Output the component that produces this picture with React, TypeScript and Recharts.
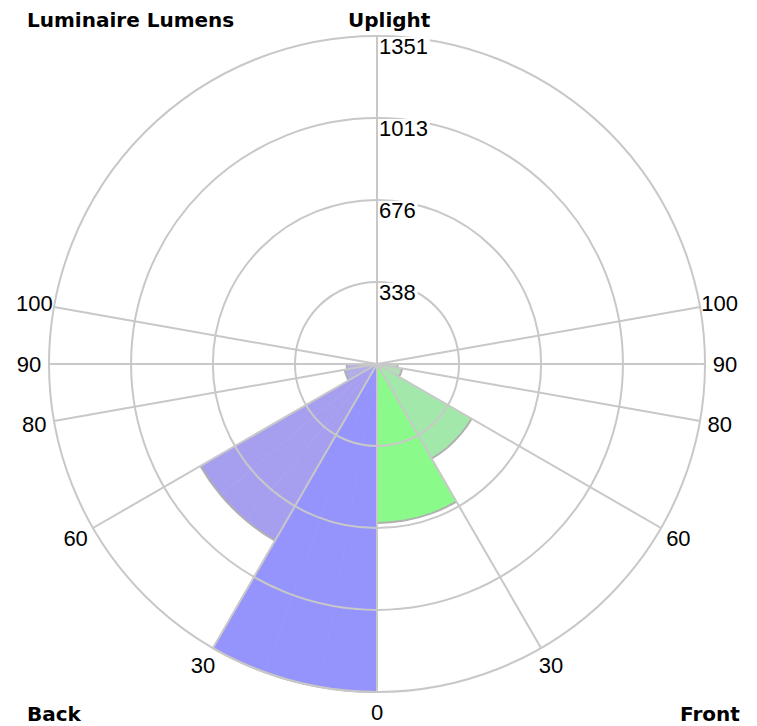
import {
  RadialBarChart,
  RadialBar,
  PolarAngleAxis,
  PolarRadiusAxis,
  PolarGrid,
  Sector,
} from "recharts"

// zonal lumens, zones measured from nadir (0) up to zenith (180)
const zoneStart = [0, 30, 60, 80, 90, 100]
const zoneEnd = [30, 60, 80, 90, 100, 180]
const backLumens = [1351, 840, 135, 125, 0, 0]
const frontLumens = [655, 450, 105, 85, 0, 0]
const backColors = ["#9494fc", "#a69ff0", "#b1ade6", "#b8b5de", "#c0c0d8", "#c0c0d8"]
const frontColors = ["#8afa8a", "#a2e8aa", "#b2deb6", "#bad8bd", "#c0d8c0", "#c0d8c0"]

const maxLumens = 1351
const ringTicks = [0, 338, 676, 1013, 1351]
const angleLabels = [0, 30, 60, 80, 90, 100, 180]

const W = 757
const H = 726
const CX = 377
const CY = 364
const R = 328

const numFont = "'Liberation Sans', Arial, sans-serif"
const boldFont = "'DejaVu Sans', Verdana, sans-serif"

// 10 degree bins round the whole circle; the band axis puts bin i on [10i-10, 10i]
const bins = Array.from({ length: 36 }, (_, i) => {
  const mid = (i * 10 - 5 + 360) % 360
  const isBack = mid < 180
  const a = isBack ? mid : 360 - mid
  const z = zoneStart.findIndex((s, k) => a >= s && a < zoneEnd[k])
  return {
    bin: `b${i}`,
    lumens: isBack ? backLumens[z] : frontLumens[z],
    color: isBack ? backColors[z] : frontColors[z],
  }
})

// spoke positions on a 0..360 scale (front angles mirrored)
const spokeTicks = Array.from(
  new Set([...angleLabels, ...angleLabels.map((a) => 360 - a)].filter((v) => v < 360))
).sort((a, b) => a - b)
// chart angles: 0 at nadir, counted clockwise on screen towards the back
const spokeAngles = spokeTicks.map((v) => 270 - v)

function ZoneSector(props: any) {
  const { cx, cy, innerRadius, outerRadius, startAngle, endAngle } = props
  const color = props.payload?.color ?? props.color ?? props.fill
  if (!(outerRadius > 0.5)) return <g />
  const rad = Math.PI / 180
  const x1 = cx + outerRadius * Math.cos(-startAngle * rad)
  const y1 = cy + outerRadius * Math.sin(-startAngle * rad)
  const x2 = cx + outerRadius * Math.cos(-endAngle * rad)
  const y2 = cy + outerRadius * Math.sin(-endAngle * rad)
  const sweep = endAngle < startAngle ? 1 : 0
  return (
    <g>
      <Sector
        cx={cx}
        cy={cy}
        innerRadius={innerRadius}
        outerRadius={outerRadius}
        startAngle={startAngle}
        endAngle={endAngle}
        fill={color}
        stroke={color}
        strokeWidth={0.6}
      />
      <path
        d={`M${x1},${y1}A${outerRadius},${outerRadius} 0 0 ${sweep} ${x2},${y2}`}
        fill="none"
        stroke="#b0b0b0"
        strokeWidth={2}
      />
    </g>
  )
}

function AngleTick(props: any) {
  const { x, y, payload } = props
  const i = parseInt(String(payload.value).slice(1), 10)
  const v = (i * 10) % 360
  if (!spokeTicks.includes(v) || v === 180) return <g />
  const label = v <= 180 ? v : 360 - v
  return (
    <text
      x={x}
      y={y}
      textAnchor="middle"
      dominantBaseline="central"
      fontFamily={numFont}
      fontSize={22}
      fill="#000"
    >
      {label}
    </text>
  )
}

function RingTick(props: any) {
  const { x, y, payload } = props
  if (payload.value === 0) return <g />
  const s = String(payload.value)
  return (
    <g>
      <rect x={x + 2} y={y + 1} width={s.length * 12.2 + 2} height={19} fill="#fff" />
      <text x={x + 2} y={y + 18} textAnchor="start" fontFamily={numFont} fontSize={22} fill="#000">
        {s}
      </text>
    </g>
  )
}

const titleStyle = { fontFamily: boldFont, fontSize: 20, fontWeight: 700, fill: "#000" }

function Rose({ overlay }: { overlay: boolean }) {
  return (
    <RadialBarChart
      width={W}
      height={H}
      cx={CX}
      cy={CY}
      innerRadius={0}
      outerRadius={R}
      startAngle={270}
      endAngle={-90}
      layout="centric"
      data={bins}
      barCategoryGap={0}
      barGap={0}
      margin={{ top: 0, right: 0, bottom: 0, left: 0 }}
    >
      {overlay && <PolarGrid gridType="circle" polarAngles={spokeAngles} stroke="#c8c8c8" strokeWidth={2} />}
      <PolarAngleAxis
        type="category"
        dataKey="bin"
        scale="band"
        tick={overlay ? AngleTick : false}
        tickSize={20}
        axisLine={false}
        tickLine={false}
      />
      <PolarRadiusAxis
        type="number"
        angle={90}
        domain={[0, maxLumens]}
        ticks={ringTicks}
        tick={overlay ? RingTick : false}
        axisLine={false}
        tickLine={false}
      />
      <RadialBar
        dataKey="lumens"
        isAnimationActive={false}
        shape={overlay ? () => <g /> : ZoneSector}
      />
      {overlay && <text x={27} y={27} style={titleStyle}>Luminaire Lumens</text>}
      {overlay && <text x={348} y={27} style={titleStyle}>Uplight</text>}
      {overlay && <text x={27} y={721} style={titleStyle}>Back</text>}
      {overlay && <text x={680} y={721} style={titleStyle}>Front</text>}
    </RadialBarChart>
  )
}

export default function App() {
  return (
    <div style={{ position: "relative", width: W, height: H, background: "#fff" }}>
      <style>{`body{margin:0}`}</style>
      <div style={{ position: "absolute", left: 0, top: 0 }}>
        <Rose overlay={false} />
      </div>
      <div style={{ position: "absolute", left: 0, top: 0, pointerEvents: "none" }}>
        <Rose overlay={true} />
      </div>
    </div>
  )
}
